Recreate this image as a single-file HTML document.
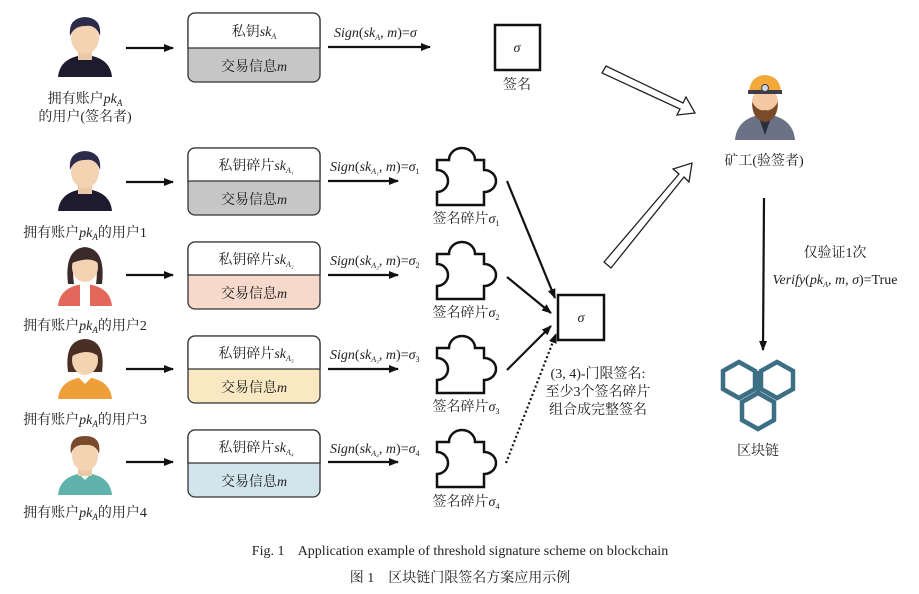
<!DOCTYPE html>
<html><head><meta charset="utf-8"><style>
body{margin:0;background:#fff}
svg{display:block;font-family:"Liberation Serif","Noto Serif CJK SC",serif}
.t{font-size:14px;fill:#222}
.i{font-style:italic}
</style></head><body>
<svg width="919" height="594" viewBox="0 0 919 594" xmlns="http://www.w3.org/2000/svg">
<defs>
<marker id="ah" markerWidth="10" markerHeight="8" refX="9" refY="4" orient="auto" markerUnits="userSpaceOnUse"><path d="M0,0 L10,4 L0,8 Z" fill="#111"/></marker>
<path id="pz" d="M0,12 H12 A13,12 0 1 1 38,12 H47 V22 A12,11 0 1 1 47,44 V57 H0 V44 A11,11 0 1 0 0,22 Z" fill="#fff" stroke="#111" stroke-width="2.5"/>
</defs>
<rect width="919" height="594" fill="#fff"/>

<!-- persons -->
<g>
<path d="M58,77 Q60,57 85,55 Q110,57 112,77 Z" fill="#1f1b2e"/>
<rect x="78" y="48" width="14" height="12" fill="#e9c9a8"/>
<ellipse cx="85" cy="38" rx="14" ry="16" fill="#f4d3b3"/>
<path d="M70,36 Q68,18 85,17 Q102,18 100,36 Q96,24 85,26 Q74,26 70,36 Z" fill="#2c2b4a"/>
</g>
<g transform="translate(0,134)">
<path d="M58,77 Q60,57 85,55 Q110,57 112,77 Z" fill="#1f1b2e"/>
<rect x="78" y="48" width="14" height="12" fill="#e9c9a8"/>
<ellipse cx="85" cy="38" rx="14" ry="16" fill="#f4d3b3"/>
<path d="M70,36 Q68,18 85,17 Q102,18 100,36 Q96,24 85,26 Q74,26 70,36 Z" fill="#2c2b4a"/>
</g>
<g transform="translate(0,229)">
<path d="M58,77 Q60,57 85,55 Q110,57 112,77 Z" fill="#e3675a"/>
<rect x="80" y="55" width="10" height="22" fill="#fff"/>
<path d="M68,55 Q64,20 85,18 Q106,20 102,55 L96,55 Q100,30 85,28 Q70,30 74,55 Z" fill="#3a2a2a"/>
<ellipse cx="85" cy="38" rx="13" ry="15" fill="#f4d3b3"/>
<path d="M72,34 Q72,22 85,22 Q98,22 98,34 Q90,27 72,34 Z" fill="#3a2a2a"/>
</g>
<g transform="translate(0,322)">
<path d="M58,77 Q60,57 85,55 Q110,57 112,77 Z" fill="#ee9f3a"/>
<path d="M78,55 L85,62 L92,55 Z" fill="#fff"/>
<path d="M68,50 Q64,18 85,17 Q106,18 102,50 Z" fill="#4a2f25"/>
<ellipse cx="85" cy="38" rx="13" ry="15" fill="#f4d3b3"/>
<path d="M72,34 Q74,22 85,22 Q98,22 98,34 Q88,26 72,34 Z" fill="#4a2f25"/>
</g>
<g transform="translate(0,418)">
<path d="M58,77 Q60,57 85,55 Q110,57 112,77 Z" fill="#5fb3aa"/>
<path d="M78,55 L85,62 L92,55 Z" fill="#fff"/>
<rect x="78" y="48" width="14" height="10" fill="#e9c9a8"/>
<ellipse cx="85" cy="38" rx="13" ry="15" fill="#f4d3b3"/>
<path d="M71,36 Q68,18 85,18 Q102,18 99,36 Q96,26 85,27 Q74,26 71,36 Z" fill="#7a4a2e"/>
</g>

<!-- person labels -->
<text class="t" x="85" y="103" text-anchor="middle">拥有账户<tspan class="i">pk</tspan><tspan font-size="9" class="i" dy="3">A</tspan></text>
<text class="t" x="85" y="121" text-anchor="middle">的用户(签名者)</text>
<text class="t" x="85" y="237" text-anchor="middle">拥有账户<tspan class="i">pk</tspan><tspan font-size="9" class="i" dy="3">A</tspan><tspan dy="-3">的用户1</tspan></text>
<text class="t" x="85" y="330" text-anchor="middle">拥有账户<tspan class="i">pk</tspan><tspan font-size="9" class="i" dy="3">A</tspan><tspan dy="-3">的用户2</tspan></text>
<text class="t" x="85" y="424" text-anchor="middle">拥有账户<tspan class="i">pk</tspan><tspan font-size="9" class="i" dy="3">A</tspan><tspan dy="-3">的用户3</tspan></text>
<text class="t" x="85" y="517" text-anchor="middle">拥有账户<tspan class="i">pk</tspan><tspan font-size="9" class="i" dy="3">A</tspan><tspan dy="-3">的用户4</tspan></text>

<g stroke="#111" stroke-width="2.2" marker-end="url(#ah)">
<line x1="126" y1="48" x2="173" y2="48"/>
<line x1="126" y1="182" x2="173" y2="182"/>
<line x1="126" y1="275" x2="173" y2="275"/>
<line x1="126" y1="369" x2="173" y2="369"/>
<line x1="126" y1="462" x2="173" y2="462"/>
<line x1="328" y1="47" x2="430" y2="47"/>
<line x1="328" y1="181" x2="398" y2="181"/>
<line x1="328" y1="275" x2="398" y2="275"/>
<line x1="328" y1="369" x2="398" y2="369"/>
<line x1="328" y1="462" x2="398" y2="462"/>
</g>

<g stroke="#333" stroke-width="1.3">
<rect x="188" y="13" width="132" height="69" rx="7" fill="#c6c6c6"/>
<path d="M188,48 V20 a7,7 0 0 1 7,-7 H313 a7,7 0 0 1 7,7 V48 Z" fill="#fff"/>
<rect x="188" y="148" width="132" height="67" rx="7" fill="#c6c6c6"/>
<path d="M188,181 V155 a7,7 0 0 1 7,-7 H313 a7,7 0 0 1 7,7 V181 Z" fill="#fff"/>
<rect x="188" y="242" width="132" height="67" rx="7" fill="#f6d9cb"/>
<path d="M188,275 V249 a7,7 0 0 1 7,-7 H313 a7,7 0 0 1 7,7 V275 Z" fill="#fff"/>
<rect x="188" y="336" width="132" height="67" rx="7" fill="#f8e9c2"/>
<path d="M188,369 V343 a7,7 0 0 1 7,-7 H313 a7,7 0 0 1 7,7 V369 Z" fill="#fff"/>
<rect x="188" y="430" width="132" height="67" rx="7" fill="#d3e5ec"/>
<path d="M188,463 V437 a7,7 0 0 1 7,-7 H313 a7,7 0 0 1 7,7 V463 Z" fill="#fff"/>
</g>
<text class="t" x="254" y="36" text-anchor="middle">私钥<tspan class="i">sk</tspan><tspan font-size="8" class="i" dy="3">A</tspan></text>
<text class="t" x="254" y="71" text-anchor="middle">交易信息<tspan class="i">m</tspan></text>
<g class="t" text-anchor="middle">
<text x="256" y="170">私钥碎片<tspan class="i">sk</tspan><tspan font-size="8" class="i" dy="3">A₁</tspan></text>
<text x="256" y="264">私钥碎片<tspan class="i">sk</tspan><tspan font-size="8" class="i" dy="3">A₂</tspan></text>
<text x="256" y="358">私钥碎片<tspan class="i">sk</tspan><tspan font-size="8" class="i" dy="3">A₃</tspan></text>
<text x="256" y="452">私钥碎片<tspan class="i">sk</tspan><tspan font-size="8" class="i" dy="3">A₄</tspan></text>
<text x="254" y="204">交易信息<tspan class="i">m</tspan></text>
<text x="254" y="298">交易信息<tspan class="i">m</tspan></text>
<text x="254" y="392">交易信息<tspan class="i">m</tspan></text>
<text x="254" y="486">交易信息<tspan class="i">m</tspan></text>
</g>

<g class="t">
<text x="334" y="37"><tspan class="i">Sign</tspan>(<tspan class="i">sk</tspan><tspan class="i" font-size="8" dy="3">A</tspan><tspan dy="-3">, </tspan><tspan class="i">m</tspan>)=<tspan class="i">σ</tspan></text>
<text x="330" y="171"><tspan class="i">Sign</tspan>(<tspan class="i">sk</tspan><tspan class="i" font-size="8" dy="3">A₁</tspan><tspan dy="-3">, </tspan><tspan class="i">m</tspan>)=<tspan class="i">σ</tspan><tspan font-size="8" dy="3">1</tspan></text>
<text x="330" y="265"><tspan class="i">Sign</tspan>(<tspan class="i">sk</tspan><tspan class="i" font-size="8" dy="3">A₂</tspan><tspan dy="-3">, </tspan><tspan class="i">m</tspan>)=<tspan class="i">σ</tspan><tspan font-size="8" dy="3">2</tspan></text>
<text x="330" y="359"><tspan class="i">Sign</tspan>(<tspan class="i">sk</tspan><tspan class="i" font-size="8" dy="3">A₃</tspan><tspan dy="-3">, </tspan><tspan class="i">m</tspan>)=<tspan class="i">σ</tspan><tspan font-size="8" dy="3">3</tspan></text>
<text x="330" y="453"><tspan class="i">Sign</tspan>(<tspan class="i">sk</tspan><tspan class="i" font-size="8" dy="3">A₄</tspan><tspan dy="-3">, </tspan><tspan class="i">m</tspan>)=<tspan class="i">σ</tspan><tspan font-size="8" dy="3">4</tspan></text>
</g>

<rect x="495" y="25" width="45" height="45" fill="#fff" stroke="#111" stroke-width="2.5"/>
<text class="t i" x="517" y="52" text-anchor="middle" font-size="12">σ</text>
<text class="t" x="517" y="89" text-anchor="middle">签名</text>

<use href="#pz" x="437" y="148"/>
<use href="#pz" x="437" y="242"/>
<use href="#pz" x="437" y="336"/>
<use href="#pz" x="437" y="430"/>
<g class="t" text-anchor="middle">
<text x="466" y="223">签名碎片<tspan class="i">σ</tspan><tspan font-size="8" dy="3">1</tspan></text>
<text x="466" y="317">签名碎片<tspan class="i">σ</tspan><tspan font-size="8" dy="3">2</tspan></text>
<text x="466" y="411">签名碎片<tspan class="i">σ</tspan><tspan font-size="8" dy="3">3</tspan></text>
<text x="466" y="506">签名碎片<tspan class="i">σ</tspan><tspan font-size="8" dy="3">4</tspan></text>
</g>

<g stroke="#111" stroke-width="2.2" marker-end="url(#ah)">
<line x1="507" y1="181" x2="555" y2="298"/>
<line x1="507" y1="277" x2="551" y2="313"/>
<line x1="507" y1="370" x2="551" y2="326"/>
<line x1="506" y1="463" x2="556" y2="334" stroke-dasharray="2,2.5"/>
</g>
<rect x="558" y="295" width="46" height="45" fill="#fff" stroke="#111" stroke-width="2.5"/>
<text class="t i" x="581" y="322" text-anchor="middle" font-size="12">σ</text>
<g class="t" text-anchor="middle">
<text x="598" y="378">(3, 4)-门限签名:</text>
<text x="598" y="396">至少3个签名碎片</text>
<text x="598" y="414">组合成完整签名</text>
</g>

<path d="M602,73 L606,66 L683,103 L686,97 L695,113 L677,115 L680,109 Z" fill="#fff" stroke="#222" stroke-width="1.3"/>
<path d="M611,268 L604,262 L679,174 L673,169 L692,163 L689,182 L684,177 Z" fill="#fff" stroke="#222" stroke-width="1.3"/>

<path d="M735,140 Q737,117 765,114 Q793,117 795,140 Z" fill="#6b7286"/>
<path d="M758,115 L765,135 L772,115 Z" fill="#2a2d3a"/>
<ellipse cx="765" cy="102" rx="13" ry="14" fill="#f2c9a0"/>
<path d="M752,102 Q752,120 765,122 Q778,120 778,102 Q772,112 765,110 Q758,112 752,102 Z" fill="#7a4b2a"/>
<path d="M749,92 Q750,76 765,75 Q780,76 781,92 Z" fill="#f3a93a"/>
<rect x="748" y="90" width="34" height="4" fill="#3c3c4a"/>
<circle cx="765" cy="88" r="3.5" fill="#cfd6e6" stroke="#3c3c4a"/>
<text class="t" x="764" y="165" text-anchor="middle">矿工(验签者)</text>

<line x1="764" y1="198" x2="763" y2="350" stroke="#111" stroke-width="2.2" marker-end="url(#ah)"/>
<text class="t" x="835" y="257" text-anchor="middle">仅验证1次</text>
<text class="t" x="835" y="284" text-anchor="middle"><tspan class="i">Verify</tspan>(<tspan class="i">pk</tspan><tspan class="i" font-size="8" dy="3">A</tspan><tspan dy="-3">, </tspan><tspan class="i">m</tspan>, <tspan class="i">σ</tspan>)=True</text>

<g fill="none" stroke="#3d6f84" stroke-width="4.5" stroke-linejoin="miter">
<polygon points="739,362 755,371 755,389 739,398 723,389 723,371"/>
<polygon points="777,362 793,371 793,389 777,398 761,389 761,371"/>
<polygon points="758,393 774,402 774,420 758,429 742,420 742,402"/>
<line x1="758" y1="371" x2="758" y2="392"/>
</g>
<text class="t" x="758" y="455" text-anchor="middle">区块链</text>

<text class="t" x="460" y="555" text-anchor="middle" xml:space="preserve">Fig. 1    Application example of threshold signature scheme on blockchain</text>
<text class="t" x="460" y="582" text-anchor="middle" xml:space="preserve">图 1    区块链门限签名方案应用示例</text>
</svg>
</body></html>
